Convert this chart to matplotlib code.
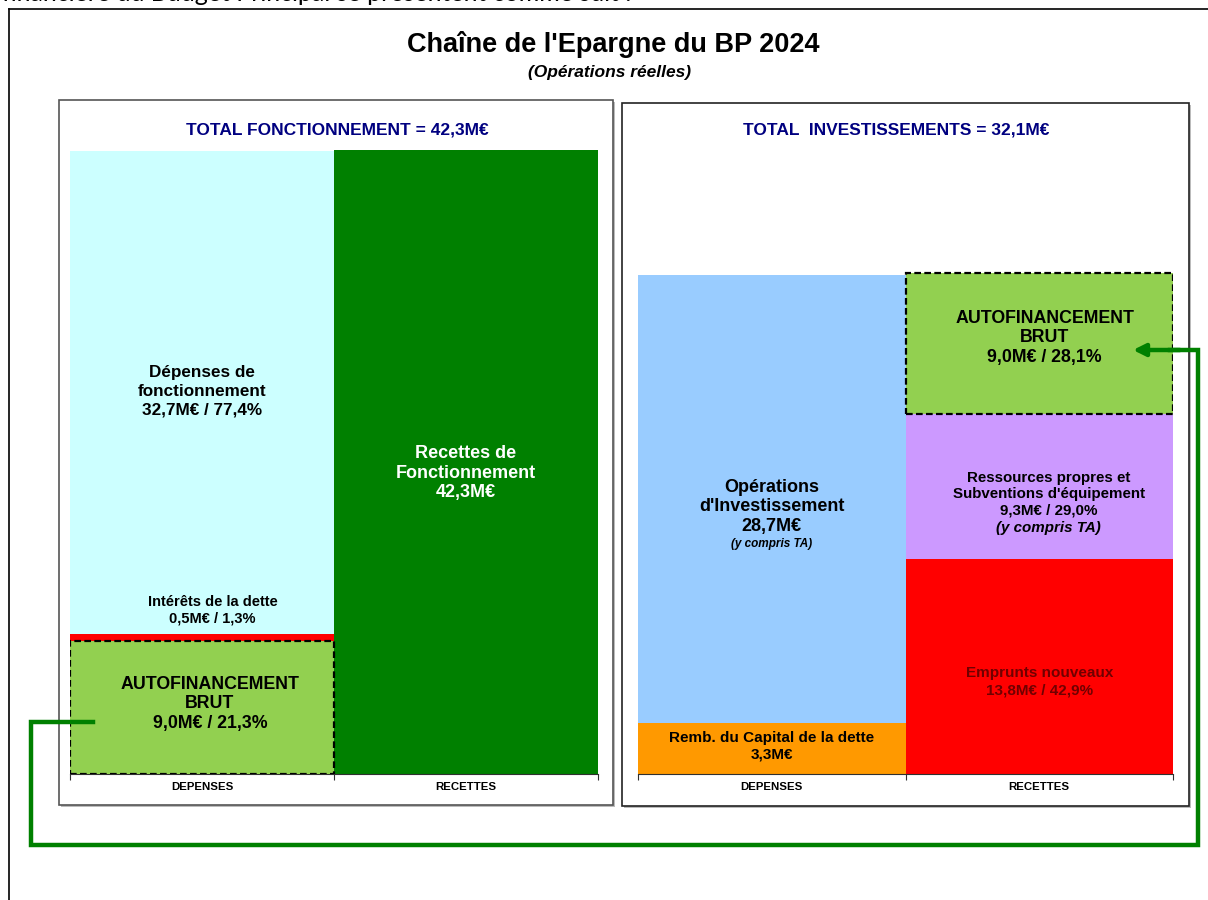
import matplotlib.pyplot as plt
from matplotlib.patches import Rectangle

plt.rcParams['font.family'] = ['Liberation Sans', 'DejaVu Sans']

W, H = 1208, 900

# Categories (x axis of both panels)
categories = ['DEPENSES', 'RECETTES']

# Section de fonctionnement (M€), stacked bottom -> top
fonct_dep_values = [9.0, 0.5, 32.7]
fonct_dep_colors = ['#92D050', '#FF0000', '#CCFFFF']
fonct_rec_values = [42.3]
fonct_rec_colors = ['#008000']
fonct_total = 'TOTAL FONCTIONNEMENT = 42,3M€'

# Section d'investissement (M€), stacked bottom -> top
invest_dep_values = [3.3, 28.7]
invest_dep_colors = ['#FF9900', '#99CCFF']
invest_rec_values = [13.8, 9.3, 9.0]
invest_rec_colors = ['#FF0000', '#CC99FF', '#92D050']
invest_total = 'TOTAL  INVESTISSEMENTS = 32,1M€'

green = '#008000'
navy = '#000080'

fig = plt.figure(figsize=(W / 100, H / 100), dpi=100)

# background layer in pixel coordinates (frames, titles)
bg = fig.add_axes([0, 0, 1, 1], zorder=0)
bg.set_xlim(0, W)
bg.set_ylim(H, 0)
bg.axis('off')

# last line of the preceding page text, cut by the top edge
bg.text(632, 1.3, 'financière du Budget Principal se présentent comme suit :',
        ha='right', va='baseline', fontsize=18, family=['Lato', 'DejaVu Sans'])
bg.plot([9, 9], [9, H], color='black', lw=1.2)
bg.plot([9, W], [9, 9], color='black', lw=1.2)

bg.text(613, 44, "Chaîne de l'Epargne du BP 2024", ha='center', va='center',
        fontsize=19.5, fontweight='bold')
bg.text(609, 73, '(Opérations réelles)', ha='center', va='center',
        fontsize=12.5, fontweight='bold', style='italic')

# panel frames with a light shadow
for x0, y0, w, h, ec in [(59, 100, 554, 705, '#555555'), (622, 103, 567, 703, '#222222')]:
    bg.add_patch(Rectangle((x0 + 2, y0 + 2), w, h, facecolor='#bbbbbb', edgecolor='none'))
    bg.add_patch(Rectangle((x0, y0), w, h, facecolor='white', edgecolor=ec, lw=1.2))

bg.text(337, 130, fonct_total, ha='center', va='center', fontsize=12.5,
        fontweight='bold', color=navy)
bg.text(896, 130, invest_total, ha='center', va='center', fontsize=12.5,
        fontweight='bold', color=navy)


def stack(ax, x, values, colors, dashed_top=None):
    bottom = 0
    segs = []
    for i, (v, c) in enumerate(zip(values, colors)):
        if dashed_top is not None and i == dashed_top:
            ax.bar(x, v, bottom=bottom, width=1.0, color=c, edgecolor='black',
                   linestyle=(0, (3, 1.5)), linewidth=1.6, zorder=3)
        else:
            ax.bar(x, v, bottom=bottom, width=1.0, color=c, linewidth=0, zorder=2)
        segs.append((bottom, bottom + v))
        bottom += v
    return segs


def style_axis(ax, ymax):
    ax.set_xlim(-0.5, 1.5)
    ax.set_ylim(0, ymax)
    ax.set_facecolor('none')
    for s in ['top', 'left', 'right']:
        ax.spines[s].set_visible(False)
    ax.spines['bottom'].set_color('#303030')
    ax.set_yticks([])
    ax.set_xticks([-0.5, 0.5, 1.5])
    ax.set_xticklabels([])
    ax.tick_params(axis='x', which='major', length=4, color='#303030')
    ax.set_xticks([0, 1], minor=True)
    ax.set_xticklabels(categories, minor=True, fontsize=8.2, fontweight='bold')
    ax.tick_params(axis='x', which='minor', length=0, pad=6)


def mid(seg):
    return (seg[0] + seg[1]) / 2


lab = dict(ha='center', va='center', fontweight='bold', zorder=5)

# ---- Fonctionnement ----
ax1 = fig.add_axes([70 / W, (H - 774) / H, 528 / W, 624 / H], zorder=1)
style_axis(ax1, 42.3)
fd = stack(ax1, 0, fonct_dep_values, fonct_dep_colors, dashed_top=0)
fr = stack(ax1, 1, fonct_rec_values, fonct_rec_colors)

ax1.text(0, mid(fd[2]) + 0.1, 'Dépenses de\nfonctionnement\n32,7M€ / 77,4%',
         fontsize=12.3, linespacing=1.3, **lab)
ax1.text(0.04, fd[1][1] + 1.6, 'Intérêts de la dette\n0,5M€ / 1,3%',
         fontsize=10.5, linespacing=1.3, **lab)
ax1.text(0.03, mid(fd[0]) + 0.25, 'AUTOFINANCEMENT\nBRUT\n9,0M€ / 21,3%',
         fontsize=12.8, linespacing=1.2, **lab)
ax1.text(1, mid(fr[0]) - 0.75, 'Recettes de\nFonctionnement\n42,3M€',
         fontsize=13, linespacing=1.2, color='white', **lab)

# ---- Investissement ----
ax2 = fig.add_axes([638 / W, (H - 774) / H, 535 / W, 624 / H], zorder=1)
style_axis(ax2, 40)
idp = stack(ax2, 0, invest_dep_values, invest_dep_colors)
irc = stack(ax2, 1, invest_rec_values, invest_rec_colors, dashed_top=2)

ax2.text(0, mid(idp[0]) + 0.14, 'Remb. du Capital de la dette\n3,3M€',
         fontsize=11, linespacing=1.28, **lab)
ax2.text(0, mid(idp[1]) - 0.53, "Opérations\nd'Investissement\n28,7M€",
         fontsize=13, linespacing=1.2, **lab)
ax2.text(0, mid(idp[1]) - 2.91, '(y compris TA)', fontsize=8.5,
         style='italic', **lab)
ax2.text(1.0, mid(irc[0]) - 1.0, 'Emprunts nouveaux\n13,8M€ / 42,9%',
         fontsize=11, linespacing=1.28, color='#700000', **lab)
ax2.text(1.035, mid(irc[1]) - 0.5,
         "Ressources propres et\nSubventions d'équipement\n9,3M€ / 29,0%",
         fontsize=10.9, linespacing=1.22, **lab)
ax2.text(1.035, mid(irc[1]) - 2.68, '(y compris TA)', fontsize=10.9,
         style='italic', **lab)
ax2.text(1.02, mid(irc[2]) + 0.35, 'AUTOFINANCEMENT\nBRUT\n9,0M€ / 28,1%',
         fontsize=12.8, linespacing=1.2, **lab)

# ---- connector arrow (autofinancement brut) ----
top = fig.add_axes([0, 0, 1, 1], zorder=3)
top.set_xlim(0, W)
top.set_ylim(H, 0)
top.axis('off')
top.plot([93, 31, 31, 1198, 1198, 1170], [722, 722, 845, 845, 350, 350],
         color=green, lw=3.2, solid_joinstyle='miter')
top.annotate('', xy=(1133, 350), xytext=(1180, 350),
             arrowprops=dict(arrowstyle='-|>', color=green, lw=3.2,
                             mutation_scale=18, shrinkA=0, shrinkB=0))

fig.savefig('out.png', dpi=100)
